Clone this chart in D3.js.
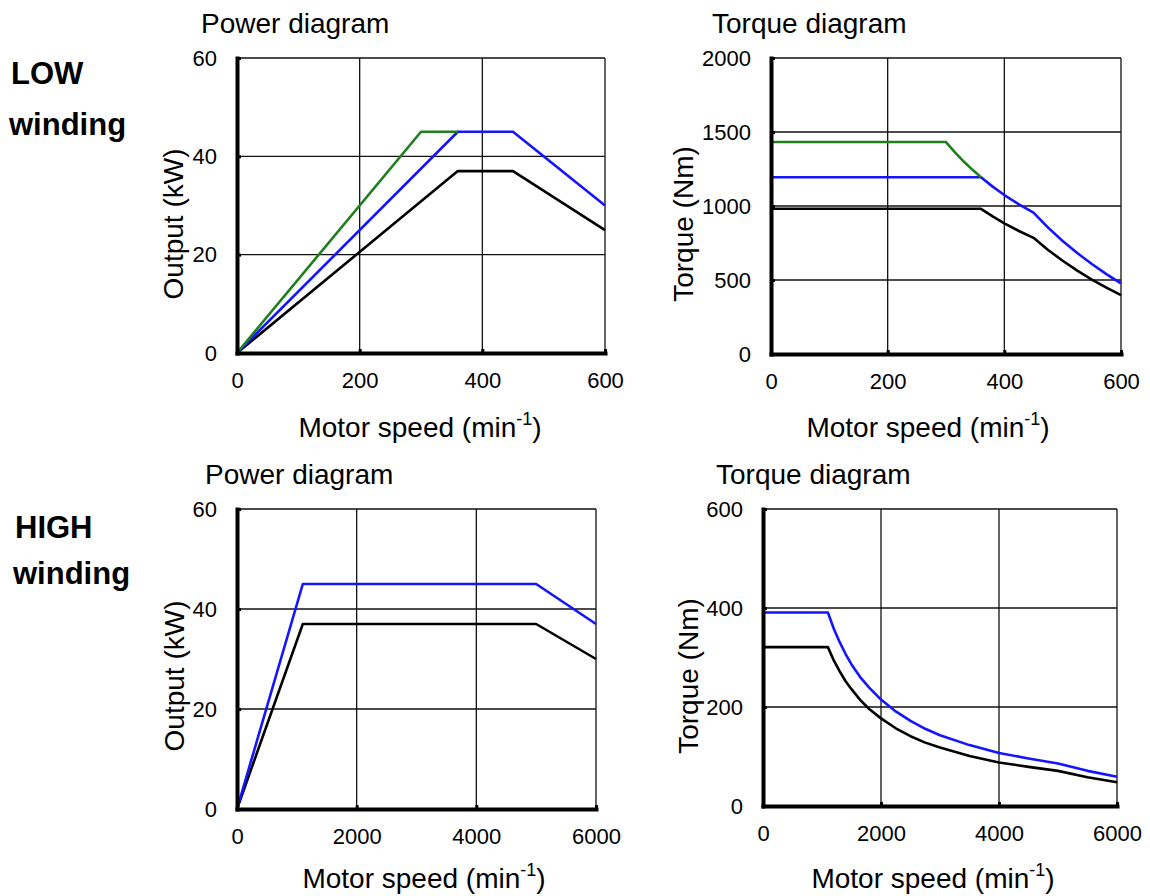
<!DOCTYPE html>
<html>
<head>
<meta charset="utf-8">
<script src="https://cdn.jsdelivr.net/npm/d3@7"></script>
<style>
  html, body { margin: 0; padding: 0; background: #fff; }
  svg { display: block; font-family: "Liberation Sans", Arial, sans-serif; }
</style>
</head>
<body>
<svg id="chart" width="1150" height="896"></svg>
<script>
// Tick values for each axis
const lowSpeedTicks = [0, 200, 400, 600];
const highSpeedTicks = [0, 2000, 4000, 6000];
const powerTicks = [0, 20, 40, 60];
const lowTorqueTicks = [0, 500, 1000, 1500, 2000];
const highTorqueTicks = [0, 200, 400, 600];

// LOW winding, output vs speed [min-1, kW]
const lowPowerGreen = [[0, 0], [300, 45], [360, 45]];
const lowPowerBlue = [[0, 0], [360, 45], [450, 45], [600, 30]];
const lowPowerBlack = [[0, 0], [360, 37], [450, 37], [600, 25]];

// LOW winding, torque vs speed [min-1, Nm]
const lowTorqueGreen = [[0, 1432], [300, 1432], [315, 1364], [330, 1302], [345, 1246], [360, 1194]];
const lowTorqueBlue = [[0, 1194], [360, 1194], [380, 1131], [400, 1074], [425, 1011], [450, 955],
  [475, 854], [500, 764], [525, 682], [550, 608], [575, 540], [600, 477]];
const lowTorqueBlack = [[0, 981], [360, 981], [380, 930], [400, 883], [425, 831], [450, 785],
  [475, 703], [500, 630], [525, 563], [550, 503], [575, 448], [600, 398]];

// HIGH winding, output vs speed [min-1, kW]
const highPowerBlue = [[0, 0], [1100, 45], [5000, 45], [6000, 37]];
const highPowerBlack = [[0, 0], [1100, 37], [5000, 37], [6000, 30]];

// HIGH winding, torque vs speed [min-1, Nm]
const highTorqueBlue = [[0, 391], [1100, 391], [1200, 358], [1300, 331], [1400, 307], [1500, 286],
  [1650, 260], [1800, 239], [2000, 215], [2250, 191], [2500, 172], [2750, 156], [3000, 143],
  [3500, 123], [4000, 107], [4500, 96], [5000, 86], [5500, 71], [6000, 59]];
const highTorqueBlack = [[0, 321], [1100, 321], [1200, 294], [1300, 272], [1400, 252], [1500, 236],
  [1650, 214], [1800, 196], [2000, 177], [2250, 157], [2500, 141], [2750, 128], [3000, 118],
  [3500, 101], [4000, 88], [4500, 79], [5000, 71], [5500, 58], [6000, 48]];

const GREEN = "#1f7f1f";
const BLUE = "#1414ff";
const BLACK = "#000";

const svg = d3.select("#chart");

// Row headings
const headings = [
  { text: "LOW", x: 11, y: 84 },
  { text: "winding", x: 9, y: 135 },
  { text: "HIGH", x: 15, y: 538 },
  { text: "winding", x: 13, y: 584 }
];
svg.selectAll("text.heading").data(headings).join("text")
  .attr("class", "heading")
  .attr("x", d => d.x).attr("y", d => d.y)
  .attr("font-size", 31).attr("font-weight", "bold")
  .text(d => d.text);

const panels = [
  { left: 237, right: 605, bottom: 353, top: 58, xDomain: [0, 600], yDomain: [0, 60],
    xTicks: lowSpeedTicks, yTicks: powerTicks,
    series: [[lowPowerBlack, BLACK], [lowPowerBlue, BLUE], [lowPowerGreen, GREEN]],
    title: "Power diagram", titleX: 201, titleY: 33,
    yLabel: "Output (kW)", yLabelX: 183, yLabelY: 224, xLabelX: 420, xLabelY: 437 },
  { left: 771, right: 1121, bottom: 354, top: 58, xDomain: [0, 600], yDomain: [0, 2000],
    xTicks: lowSpeedTicks, yTicks: lowTorqueTicks,
    series: [[lowTorqueBlack, BLACK], [lowTorqueBlue, BLUE], [lowTorqueGreen, GREEN]],
    title: "Torque diagram", titleX: 712, titleY: 33,
    yLabel: "Torque (Nm)", yLabelX: 693, yLabelY: 224, xLabelX: 928, xLabelY: 437 },
  { left: 237, right: 596, bottom: 809, top: 509, xDomain: [0, 6000], yDomain: [0, 60],
    xTicks: highSpeedTicks, yTicks: powerTicks,
    series: [[highPowerBlack, BLACK], [highPowerBlue, BLUE]],
    title: "Power diagram", titleX: 205, titleY: 484,
    yLabel: "Output (kW)", yLabelX: 184, yLabelY: 676, xLabelX: 424, xLabelY: 888 },
  { left: 763, right: 1117, bottom: 806, top: 509, xDomain: [0, 6000], yDomain: [0, 600],
    xTicks: highSpeedTicks, yTicks: highTorqueTicks,
    series: [[highTorqueBlack, BLACK], [highTorqueBlue, BLUE]],
    title: "Torque diagram", titleX: 716, titleY: 484,
    yLabel: "Torque (Nm)", yLabelX: 698, yLabelY: 676, xLabelX: 933, xLabelY: 888 }
];

const tickFmt = d3.format("d");

panels.forEach(p => {
  const x = d3.scaleLinear().domain(p.xDomain).range([p.left, p.right]);
  const y = d3.scaleLinear().domain(p.yDomain).range([p.bottom, p.top]);
  const g = svg.append("g");

  // grid lines (the last ones also close the frame)
  g.selectAll("line.vgrid").data(p.xTicks.slice(1)).join("line")
    .attr("x1", d => x(d)).attr("x2", d => x(d))
    .attr("y1", p.bottom).attr("y2", p.top)
    .attr("stroke", "#111").attr("stroke-width", 1.3);
  g.selectAll("line.hgrid").data(p.yTicks.slice(1)).join("line")
    .attr("x1", p.left).attr("x2", p.right)
    .attr("y1", d => y(d)).attr("y2", d => y(d))
    .attr("stroke", "#111").attr("stroke-width", 1.3);

  // curves
  const line = d3.line().x(d => x(d[0])).y(d => y(d[1]));
  p.series.forEach(([data, color]) => {
    g.append("path").datum(data)
      .attr("d", line)
      .attr("fill", "none")
      .attr("stroke", color)
      .attr("stroke-width", 2.6)
      .attr("stroke-linejoin", "round");
  });

  // axes
  const xAxis = g.append("g")
    .attr("transform", `translate(0,${p.bottom})`)
    .call(d3.axisBottom(x).tickValues(p.xTicks).tickFormat(tickFmt)
      .tickSize(-4).tickSizeOuter(0).tickPadding(19));
  const yAxis = g.append("g")
    .attr("transform", `translate(${p.left},0)`)
    .call(d3.axisLeft(y).tickValues(p.yTicks).tickFormat(tickFmt)
      .tickSize(-4).tickSizeOuter(0).tickPadding(20));
  [xAxis, yAxis].forEach(ax => {
    ax.select(".domain").attr("stroke", "#000").attr("stroke-width", 4).attr("stroke-linecap", "square");
    ax.selectAll(".tick line").attr("stroke", "#000").attr("stroke-width", 3);
    ax.selectAll(".tick text")
      .attr("fill", "#000")
      .attr("font-size", 22)
      .attr("font-family", "\"Liberation Sans\", Arial, sans-serif");
  });

  // title
  g.append("text")
    .attr("x", p.titleX).attr("y", p.titleY)
    .attr("font-size", 28)
    .text(p.title);

  // y label
  g.append("text")
    .attr("transform", `translate(${p.yLabelX},${p.yLabelY}) rotate(-90)`)
    .attr("text-anchor", "middle")
    .attr("font-size", 28)
    .text(p.yLabel);

  // x label with superscript
  const xl = g.append("text")
    .attr("x", p.xLabelX).attr("y", p.xLabelY)
    .attr("text-anchor", "middle")
    .attr("font-size", 28);
  xl.append("tspan").text("Motor speed (min");
  xl.append("tspan").attr("dy", -12).attr("font-size", 18).text("-1");
  xl.append("tspan").attr("dy", 12).text(")");
});
</script>
</body>
</html>
